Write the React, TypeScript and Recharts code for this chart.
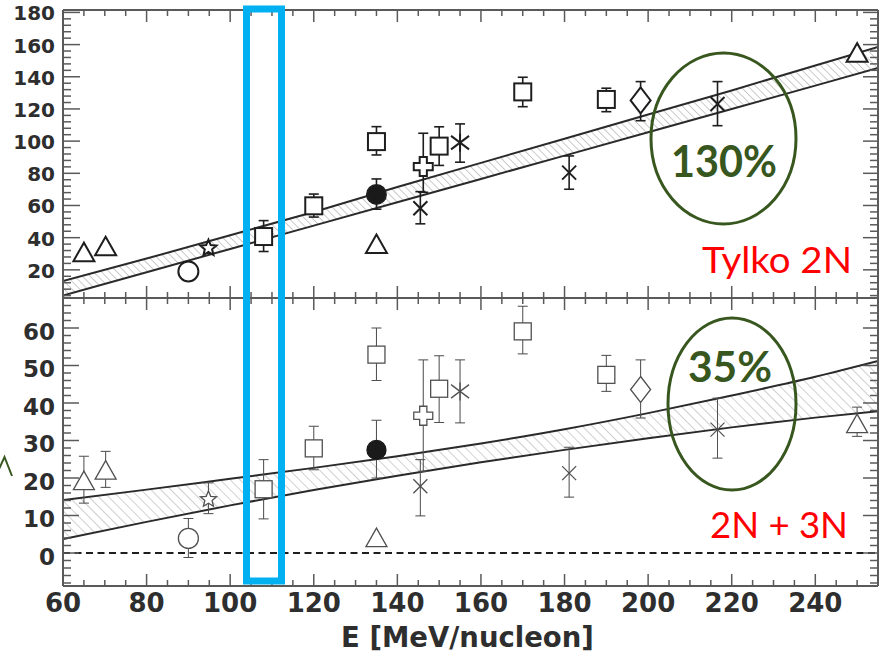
import React from 'react';
import { ComposedChart, Scatter, Area, XAxis, YAxis, ReferenceLine } from 'recharts';

// ---------- band (theory) samples ----------
const bandE = [60, 80, 100, 120, 140, 160, 180, 200, 220, 240, 255];
const topBandLow = [4, 18.5, 33, 47.5, 62, 76.5, 91, 105.5, 120, 134.5, 145.5];
const topBandHigh = [13, 27, 41.5, 56, 71.5, 86.5, 101.5, 116.5, 131.5, 147, 158.5];
const botBandLow = [3.7, 8.3, 12.7, 16.8, 20.6, 24.2, 27.5, 30.6, 33.5, 36.1, 37.8];
const botBandHigh = [14.1, 16.9, 19.8, 22.7, 25.8, 29.2, 33.0, 37.3, 42.0, 47.0, 51.2];

// ---------- top panel data ("Tylko 2N") ----------
const topTriangles = [{ E: 65, v: 31 }, { E: 70.2, v: 34.7 }, { E: 135, v: 36 }, { E: 250, v: 155 }];
const topOpenCircles = [{ E: 90, v: 19 }];
const topStars = [{ E: 94.8, v: 33.5 }];
const topSquares = [
  { E: 108, v: 40.7, err: [9.3, 9.9] },
  { E: 120, v: 59.8, err: [7, 7.3] },
  { E: 135, v: 99.7, err: [8.3, 9.3] },
  { E: 150, v: 96.9, err: [12, 12] },
  { E: 170, v: 130.6, err: [9.2, 9.1] },
  { E: 190, v: 125.9, err: [7.6, 7] },
];
const topFilledCircles = [{ E: 135, v: 66.9, err: [9.2, 9.6] }];
const topPluses = [{ E: 146.2, v: 84.2, err: [16, 20.7] }];
const topCrosses = [
  { E: 145.5, v: 58.3, err: [9.7, 10.3] },
  { E: 181.1, v: 80.4, err: [10.3, 10.4] },
  { E: 216.6, v: 123.1, err: [13.5, 13.9] },
];
const topAsterisks = [{ E: 155, v: 99.1, err: [12.2, 11.6] }];
const topDiamonds = [{ E: 198.2, v: 125.3, err: [12.6, 11.7] }];

// ---------- bottom panel data ("2N + 3N") ----------
const botTriangles = [
  { E: 65, v: 19.3, err: [6, 6.5] },
  { E: 70.2, v: 22.1, err: [4.6, 5] },
  { E: 135, v: 4.1 },
  { E: 250, v: 34.5, err: [3.4, 4.4] },
];
const botOpenCircles = [{ E: 90, v: 3.9, err: [5.1, 5.3] }];
const botStars = [{ E: 94.8, v: 14.3, err: [3.8, 4.4] }];
const botSquares = [
  { E: 108, v: 17, err: [7.9, 7.9] },
  { E: 120, v: 27.9, err: [5.7, 5.9] },
  { E: 135, v: 52.9, err: [6.9, 7.1] },
  { E: 150, v: 43.8, err: [9, 8.8] },
  { E: 170, v: 59.1, err: [6, 6.7] },
  { E: 190, v: 47.5, err: [4.4, 5.2] },
];
const botFilledCircles = [{ E: 135, v: 27.5, err: [7.5, 7.9] }];
const botPluses = [{ E: 146.2, v: 36.6, err: [14.8, 14.9] }];
const botCrosses = [
  { E: 145.5, v: 17.8, err: [7.9, 7.1] },
  { E: 181.1, v: 21.3, err: [6.4, 6.9] },
  { E: 216.6, v: 32.9, err: [7.6, 8.4] },
];
const botAsterisks = [{ E: 155, v: 43.1, err: [8.4, 8.4] }];
const botDiamonds = [{ E: 198.2, v: 43.6, err: [7.6, 7.9] }];

// ---------- ticks ----------
const xLabels = [60, 80, 100, 120, 140, 160, 180, 200, 220, 240];
const topYLabels = [20, 40, 60, 80, 100, 120, 140, 160, 180];
const botYLabels = [0, 10, 20, 30, 40, 50, 60];
const range = (a: number, b: number, s: number) => {
  const out: number[] = [];
  for (let v = a; v <= b + 1e-9; v += s) out.push(Math.round(v * 100) / 100);
  return out;
};
const xTicks = range(60, 255, 5);
const topYTicks = range(4, 180, 4);
const botYTicks = range(-8, 66, 2);

const X_DOMAIN: [number, number] = [60, 255];
const TOP_DOMAIN: [number, number] = [2.5, 181.5];
const BOT_DOMAIN: [number, number] = [-8.8, 68];

const AXIS = '#5a5a5a';
const LABEL = '#2e2e2e';
const FONT = '"DejaVu Sans", sans-serif';
const GREEN = '#38571f';

const topBandData = bandE.map((E, i) => ({ E, band: [topBandLow[i], topBandHigh[i]] }));
const botBandData = bandE.map((E, i) => ({ E, band: [botBandLow[i], botBandHigh[i]] }));

// ---------- tick renderer ----------
type TickCfg = {
  side: 'left' | 'right' | 'top' | 'bottom';
  major: number;
  majorLen: number;
  minorLen: number;
  labels?: number[];
  fontSize?: number;
  labelDy?: number;
};
function tickRenderer(cfg: TickCfg) {
  return (p: any) => {
    const { x, y, payload } = p;
    const v = payload.value as number;
    const isMaj = Math.abs(v / cfg.major - Math.round(v / cfg.major)) < 1e-6;
    const len = isMaj ? cfg.majorLen : cfg.minorLen;
    let x2 = x, y2 = y;
    if (cfg.side === 'left') x2 = x + len;
    if (cfg.side === 'right') x2 = x - len;
    if (cfg.side === 'top') y2 = y + len;
    if (cfg.side === 'bottom') y2 = y - len;
    let label: React.ReactNode = null;
    if (cfg.labels && cfg.labels.includes(v)) {
      if (cfg.side === 'left') {
        label = (
          <text x={x - 8} y={y + (cfg.labelDy || 0)} textAnchor="end" fontFamily={FONT} fontWeight={700} fontSize={cfg.fontSize} fill={LABEL}>
            {v}
          </text>
        );
      } else if (cfg.side === 'bottom') {
        label = (
          <text x={x} y={y + (cfg.labelDy || 0)} textAnchor="middle" fontFamily={FONT} fontWeight={700} fontSize={cfg.fontSize} fill={LABEL}>
            {v}
          </text>
        );
      }
    }
    return (
      <g>
        <line x1={x} y1={y} x2={x2} y2={y2} stroke={AXIS} strokeWidth={1.5} />
        {label}
      </g>
    );
  };
}

// ---------- marker shapes ----------
type Ink = { stroke: string; sw: number };
const TOP_INK: Ink = { stroke: '#1e1e1e', sw: 2 };
const BOT_INK: Ink = { stroke: '#505050', sw: 1.3 };

const ok = (p: any) => p && p.cx != null && p.cy != null;
const triangle = (ink: Ink) => (p: any) =>
  ok(p) ? (
    <polygon points={`${p.cx},${p.cy - 9.5} ${p.cx - 10.5},${p.cy + 9} ${p.cx + 10.5},${p.cy + 9}`} fill="#fff" stroke={ink.stroke} strokeWidth={ink.sw} />
  ) : <g />;
const circle = (ink: Ink, fill: string, r: number) => (p: any) =>
  ok(p) ? <circle cx={p.cx} cy={p.cy} r={r} fill={fill} stroke={ink.stroke} strokeWidth={ink.sw} /> : <g />;
const square = (ink: Ink) => (p: any) =>
  ok(p) ? <rect x={p.cx - 8.5} y={p.cy - 8.5} width={17} height={17} fill="#fff" stroke={ink.stroke} strokeWidth={ink.sw} /> : <g />;
const diamond = (ink: Ink) => (p: any) =>
  ok(p) ? (
    <polygon points={`${p.cx},${p.cy - 13} ${p.cx + 10},${p.cy} ${p.cx},${p.cy + 13} ${p.cx - 10},${p.cy}`} fill="#fff" stroke={ink.stroke} strokeWidth={ink.sw} />
  ) : <g />;
const star = (ink: Ink, R: number) => (p: any) => {
  if (!ok(p)) return <g />;
  const pts: string[] = [];
  for (let i = 0; i < 10; i++) {
    const rr = i % 2 === 0 ? R : R * 0.45;
    const a = -Math.PI / 2 + (i * Math.PI) / 5;
    pts.push(`${p.cx + rr * Math.cos(a)},${p.cy + rr * Math.sin(a)}`);
  }
  return <polygon points={pts.join(' ')} fill="#fff" stroke={ink.stroke} strokeWidth={ink.sw} />;
};
const plus = (ink: Ink) => (p: any) => {
  if (!ok(p)) return <g />;
  const a = 3.6, b = 9.5, x = p.cx, y = p.cy;
  const pts = [
    [x - a, y - b], [x + a, y - b], [x + a, y - a], [x + b, y - a], [x + b, y + a], [x + a, y + a],
    [x + a, y + b], [x - a, y + b], [x - a, y + a], [x - b, y + a], [x - b, y - a], [x - a, y - a],
  ].map((q) => q.join(',')).join(' ');
  return <polygon points={pts} fill="#fff" stroke={ink.stroke} strokeWidth={ink.sw} />;
};
const cross = (ink: Ink, h: number) => (p: any) =>
  ok(p) ? (
    <g stroke={ink.stroke} strokeWidth={ink.sw}>
      <line x1={p.cx - h} y1={p.cy - h} x2={p.cx + h} y2={p.cy + h} />
      <line x1={p.cx - h} y1={p.cy + h} x2={p.cx + h} y2={p.cy - h} />
    </g>
  ) : <g />;
const asterisk = (ink: Ink, h: number) => (p: any) =>
  ok(p) ? (
    <g stroke={ink.stroke} strokeWidth={ink.sw}>
      <line x1={p.cx - h} y1={p.cy - h * 0.75} x2={p.cx + h} y2={p.cy + h * 0.75} />
      <line x1={p.cx - h} y1={p.cy + h * 0.75} x2={p.cx + h} y2={p.cy - h * 0.75} />
      <line x1={p.cx} y1={p.cy - h} x2={p.cx} y2={p.cy + h} />
    </g>
  ) : <g />;

// error bar drawn as a vertical data-space segment with fixed-size caps
const errShape = (ink: Ink) => (p: any) => {
  const { x1, y1, x2, y2 } = p;
  if (x1 == null || y1 == null) return <g />;
  const c = 5;
  return (
    <g stroke={ink.stroke} strokeWidth={ink.sw * 0.8} fill="none">
      <line x1={x1} y1={y1} x2={x2} y2={y2} />
      <line x1={x1 - c} y1={y1} x2={x1 + c} y2={y1} />
      <line x1={x2 - c} y1={y2} x2={x2 + c} y2={y2} />
    </g>
  );
};

function errorBars(data: any[], ink: Ink, prefix: string) {
  return data
    .filter((d) => d.err)
    .map((d, i) => (
      <ReferenceLine
        key={`${prefix}-${i}`}
        segment={[{ x: d.E, y: d.v - d.err[0] }, { x: d.E, y: d.v + d.err[1] }]}
        shape={errShape(ink)}
        ifOverflow="visible"
      />
    ));
}

function series(data: any[], shape: any, name: string) {
  return <Scatter key={name} name={name} data={data} dataKey="v" shape={shape} isAnimationActive={false} />;
}

const topGroups: [any[], any][] = [
  [topTriangles, triangle(TOP_INK)],
  [topOpenCircles, circle(TOP_INK, '#fff', 10)],
  [topStars, star(TOP_INK, 8.5)],
  [topSquares, square(TOP_INK)],
  [topFilledCircles, circle(TOP_INK, '#1a1a1a', 9.5)],
  [topPluses, plus(TOP_INK)],
  [topCrosses, cross(TOP_INK, 7)],
  [topAsterisks, asterisk(TOP_INK, 9)],
  [topDiamonds, diamond(TOP_INK)],
];
const botGroups: [any[], any][] = [
  [botTriangles, triangle(BOT_INK)],
  [botOpenCircles, circle(BOT_INK, '#fff', 10)],
  [botStars, star(BOT_INK, 8.5)],
  [botSquares, square(BOT_INK)],
  [botFilledCircles, circle({ stroke: '#1a1a1a', sw: 1.3 }, '#1a1a1a', 9.5)],
  [botPluses, plus(BOT_INK)],
  [botCrosses, cross(BOT_INK, 7)],
  [botAsterisks, asterisk(BOT_INK, 9)],
  [botDiamonds, diamond(BOT_INK)],
];

export default function App() {
  return (
    <div style={{ position: 'absolute', left: 0, top: 0, width: 885, height: 662, background: '#fff' }}>
      {/* ---------------- top panel ---------------- */}
      <div style={{ position: 'absolute', left: 0, top: 0 }}>
        <ComposedChart width={885} height={300} data={topBandData} margin={{ top: 0, right: 0, bottom: 0, left: 0 }}>
          <defs>
            <pattern id="hatchTop" patternUnits="userSpaceOnUse" width={5.5} height={5.5} patternTransform="rotate(-45)">
              <line x1={0} y1={0} x2={0} y2={5.5} stroke="#a8a8a8" strokeWidth={1.2} />
            </pattern>
          </defs>
          <XAxis xAxisId="top" orientation="top" dataKey="E" type="number" domain={X_DOMAIN} allowDataOverflow ticks={xTicks} interval={0} height={10} tickSize={0} tickMargin={0} tickLine={false} axisLine={{ stroke: AXIS, strokeWidth: 2 }} tick={tickRenderer({ side: 'top', major: 20, majorLen: 12, minorLen: 6 })} />
          <XAxis dataKey="E" type="number" domain={X_DOMAIN} allowDataOverflow ticks={xTicks} interval={0} height={2} tickSize={0} tickMargin={0} tickLine={false} axisLine={{ stroke: AXIS, strokeWidth: 2 }} tick={tickRenderer({ side: 'bottom', major: 20, majorLen: 12, minorLen: 6 })} />
          <YAxis type="number" domain={TOP_DOMAIN} allowDataOverflow ticks={topYTicks} interval={0} width={63} tickSize={0} tickMargin={0} tickLine={false} axisLine={{ stroke: AXIS, strokeWidth: 2 }} tick={tickRenderer({ side: 'left', major: 20, majorLen: 17, minorLen: 8, labels: topYLabels, fontSize: 20, labelDy: 8 })} />
          <YAxis yAxisId="right" orientation="right" type="number" domain={TOP_DOMAIN} allowDataOverflow ticks={topYTicks} interval={0} width={7} tickSize={0} tickMargin={0} tickLine={false} axisLine={{ stroke: AXIS, strokeWidth: 2 }} tick={tickRenderer({ side: 'right', major: 20, majorLen: 15, minorLen: 8 })} />
          <Area type="linear" dataKey="band" stroke="#2a2a2a" strokeWidth={2} fill="url(#hatchTop)" fillOpacity={1} dot={false} activeDot={false} isAnimationActive={false} />
          {topGroups.map(([d], gi) => errorBars(d, TOP_INK, `te${gi}`))}
          {topGroups.map(([d, s], gi) => series(d, s, `ts${gi}`))}
        </ComposedChart>
      </div>

      {/* ---------------- bottom panel ---------------- */}
      <div style={{ position: 'absolute', left: 0, top: 290 }}>
        <ComposedChart width={885} height={372} data={botBandData} margin={{ top: 0, right: 0, bottom: 0, left: 0 }}>
          <defs>
            <pattern id="hatchBot" patternUnits="userSpaceOnUse" width={7} height={7} patternTransform="rotate(-45)">
              <line x1={0} y1={0} x2={0} y2={7} stroke="#a8a8a8" strokeWidth={1.1} />
            </pattern>
          </defs>
          <XAxis xAxisId="top" orientation="top" dataKey="E" type="number" domain={X_DOMAIN} allowDataOverflow ticks={xTicks} interval={0} height={8} tickSize={0} tickMargin={0} tickLine={false} axisLine={{ stroke: AXIS, strokeWidth: 2 }} tick={tickRenderer({ side: 'top', major: 20, majorLen: 12, minorLen: 6 })} />
          <XAxis
            dataKey="E" type="number" domain={X_DOMAIN} allowDataOverflow ticks={xTicks} interval={0} height={76} tickSize={0} tickMargin={0} tickLine={false}
            axisLine={{ stroke: AXIS, strokeWidth: 2 }}
            tick={tickRenderer({ side: 'bottom', major: 20, majorLen: 12, minorLen: 6, labels: xLabels, fontSize: 26, labelDy: 25.7 })}
            label={{ value: 'E [MeV/nucleon]', position: 'insideBottom', offset: 15, dx: -3, fill: LABEL, fontSize: 27.5, fontWeight: 700, fontFamily: FONT }}
          />
          <YAxis type="number" domain={BOT_DOMAIN} allowDataOverflow ticks={botYTicks} interval={0} width={63} tickSize={0} tickMargin={0} tickLine={false} axisLine={{ stroke: AXIS, strokeWidth: 2 }} tick={tickRenderer({ side: 'left', major: 10, majorLen: 16, minorLen: 8, labels: botYLabels, fontSize: 23, labelDy: 11.5 })} />
          <YAxis yAxisId="right" orientation="right" type="number" domain={BOT_DOMAIN} allowDataOverflow ticks={botYTicks} interval={0} width={7} tickSize={0} tickMargin={0} tickLine={false} axisLine={{ stroke: AXIS, strokeWidth: 2 }} tick={tickRenderer({ side: 'right', major: 10, majorLen: 15, minorLen: 8 })} />
          <Area type="monotone" dataKey="band" stroke="#2a2a2a" strokeWidth={2} fill="url(#hatchBot)" fillOpacity={1} dot={false} activeDot={false} isAnimationActive={false} />
          <ReferenceLine y={0} stroke="#1e1e1e" strokeWidth={2.2} strokeDasharray="7 4.5" />
          {botGroups.map(([d], gi) => errorBars(d, BOT_INK, `be${gi}`))}
          {botGroups.map(([d, s], gi) => series(d, s, `bs${gi}`))}
        </ComposedChart>
      </div>

      {/* ---------------- annotations ---------------- */}
      <svg width={885} height={662} style={{ position: 'absolute', left: 0, top: 0, pointerEvents: 'none' }}>
        <rect x={246.5} y={9} width={35} height={572} fill="none" stroke="#00b0f0" strokeWidth={7} />
        <ellipse cx={723.5} cy={138.5} rx={72.5} ry={85.5} fill="none" stroke={GREEN} strokeWidth={3} />
        <text x={724} y={177} textAnchor="middle" fontFamily="Lato, sans-serif" fontWeight={700} fontSize={44} fill={GREEN} textLength={106} lengthAdjust="spacingAndGlyphs">130%</text>
        <text x={702} y={273} fontFamily="Lato, sans-serif" fontSize={37} fill="#ff0000" textLength={150} lengthAdjust="spacingAndGlyphs">Tylko 2N</text>
        <ellipse cx={732} cy={404} rx={64} ry={86} fill="none" stroke={GREEN} strokeWidth={3} />
        <text x={730} y={382} textAnchor="middle" fontFamily="Lato, sans-serif" fontWeight={700} fontSize={42} fill={GREEN} textLength={84} lengthAdjust="spacingAndGlyphs">35%</text>
        <text x={710} y={538} fontFamily="Lato, sans-serif" fontSize={37} fill="#ff0000" textLength={138} lengthAdjust="spacingAndGlyphs">2N + 3N</text>
        <polyline points="-1,469 4.5,457 12,476" fill="none" stroke={GREEN} strokeWidth={2} />
      </svg>
    </div>
  );
}
